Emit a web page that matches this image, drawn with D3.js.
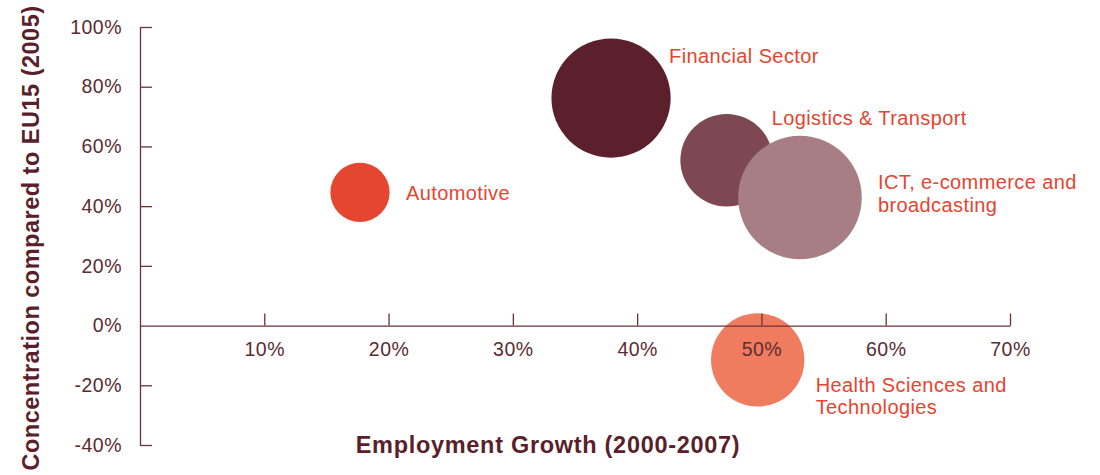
<!DOCTYPE html>
<html>
<head>
<meta charset="utf-8">
<script src="https://cdn.jsdelivr.net/npm/d3@7"></script>
<style>
  body { margin: 0; background: #fff; }
  svg { display: block; font-family: "Liberation Sans", Arial, sans-serif; }
</style>
</head>
<body>
<svg id="chart" width="1100" height="475"></svg>
<script>
// ---- data ----------------------------------------------------------------
var sectors = ['Automotive', 'Financial Sector', 'Logistics & Transport', 'ICT, e-commerce and broadcasting', 'Health Sciences and Technologies'];
var labelLines = [['Automotive'], ['Financial Sector'], ['Logistics & Transport'], ['ICT, e-commerce and', 'broadcasting'], ['Health Sciences and', 'Technologies']];
var growth = [17.7, 37.9, 47.2, 53.1, 49.7];         // employment growth, %
var concentration = [44.6, 76.2, 55.4, 42.9, -11.5];  // vs EU15, %
var bubbleSize = [23, 93, 56, 100, 57];               // relative size
var xTicks = [10, 20, 30, 40, 50, 60, 70];
var yTicks = [-40, -20, 0, 20, 40, 60, 80, 100];

// ---- look ----------------------------------------------------------------
var fills = ['#e5462f', '#5c1f2c', '#7e4852', '#a67e84', '#ef7c5e'];
// label anchor offsets from bubble centre (px)
var labelOffsets = [[46, 7.5], [58, -35], [45, -35], [78, -8.5], [58, 32]];
var lineGap = [0, 0, 0, 23.5, 22];
var axisColor = '#6d303a';
var tickColor = '#5b2b33';
var titleColor = '#5a1f2b';
var labelColor = '#e5452f';

var svg = d3.select('#chart');

var x = d3.scaleLinear().domain([0, 70]).range([140, 1010]);
var y = d3.scaleLinear().domain([-40, 100]).range([445, 27]);
var r = d3.scaleSqrt().domain([0, d3.max(bubbleSize)]).range([0, 61.8]);

//-----------------------------------------------------------------------------
var bubbles = svg.append('g').attr('class', 'bubbles');
bubbles.selectAll('circle')
    .data(sectors)
    .enter().append('circle')
    .attr('cx', function(d, i) { return x(growth[i]); })
    .attr('cy', function(d, i) { return y(concentration[i]); })
    .attr('r', function(d, i) { return r(bubbleSize[i]); })
    .style('fill', function(d, i) { return fills[i]; });

//-----------------------------------------------------------------------------
var yAxis = svg.append('g')
    .attr('transform', 'translate(' + x(0) + ',0)')
    .call(d3.axisLeft(y)
        .tickValues(yTicks)
        .tickSizeInner(-12)
        .tickSizeOuter(0)
        .tickPadding(18)
        .tickFormat(function(d) { return d + '%'; }));

var xAxis = svg.append('g')
    .attr('transform', 'translate(0,' + y(0) + ')')
    .call(d3.axisBottom(x)
        .tickValues(xTicks)
        .tickSizeInner(-12)
        .tickSizeOuter(0)
        .tickPadding(17)
        .tickFormat(function(d) { return d + '%'; }));

[xAxis, yAxis].forEach(function(a) {
    a.selectAll('path, line').attr('stroke', axisColor).attr('stroke-width', 1.3);
    a.selectAll('text')
        .attr('fill', tickColor)
        .style('font-family', '"Liberation Sans", Arial, sans-serif')
        .style('font-size', '19.5px')
        .style('letter-spacing', '0.5px');
});
yAxis.selectAll('.tick').filter(function(d) { return d === 0; }).select('line').remove();

//-----------------------------------------------------------------------------
var labels = svg.append('g').attr('class', 'labels');
sectors.forEach(function(name, i) {
    var t = labels.append('text')
        .attr('x', x(growth[i]) + labelOffsets[i][0])
        .attr('y', y(concentration[i]) + labelOffsets[i][1])
        .attr('fill', labelColor)
        .style('font-size', '20px')
        .style('letter-spacing', '0.4px');
    labelLines[i].forEach(function(line, j) {
        t.append('tspan')
            .attr('x', x(growth[i]) + labelOffsets[i][0])
            .attr('dy', j === 0 ? 0 : lineGap[i])
            .text(line);
    });
});

//-----------------------------------------------------------------------------
svg.append('text')
    .attr('x', 548)
    .attr('y', 453)
    .attr('text-anchor', 'middle')
    .attr('fill', titleColor)
    .style('font-weight', 'bold')
    .style('font-size', '23.5px')
    .style('letter-spacing', '0.7px')
    .text('Employment Growth (2000-2007)');

svg.append('text')
    .attr('transform', 'translate(39,238) rotate(-90)')
    .attr('text-anchor', 'middle')
    .attr('fill', titleColor)
    .style('font-weight', 'bold')
    .style('font-size', '23.5px')
    .style('letter-spacing', '0.5px')
    .text('Concentration compared to EU15 (2005)');
</script>
</body>
</html>
